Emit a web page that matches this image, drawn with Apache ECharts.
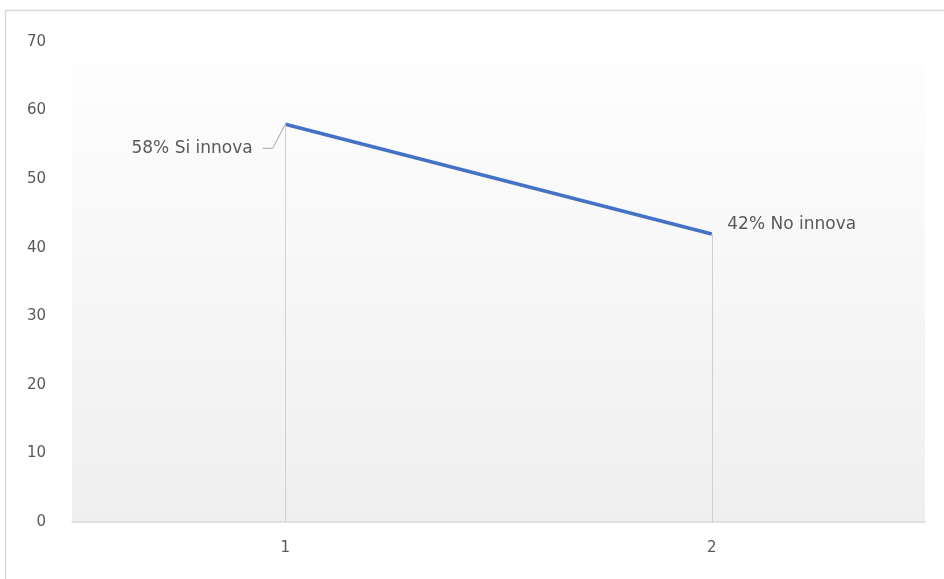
<!DOCTYPE html>
<html>
<head>
<meta charset="utf-8">
<script src="https://cdn.jsdelivr.net/npm/echarts@6/dist/echarts.min.js"></script>
<style>html,body{margin:0;padding:0;background:#fff}#c{width:944px;height:579px}</style>
</head>
<body>
<div id="c"></div>
<script>
const categories = ['1', '2'];
const values = [58, 42];
const labels = ['58% Si innova', '42% No innova'];
const yTicks = { min: 0, max: 70, interval: 10 };

const chart = echarts.init(document.getElementById('c'), null, { renderer: 'canvas' });
const font = '"DejaVu Sans", sans-serif';
chart.setOption({
  animation: false,
  backgroundColor: '#ffffff',
  graphic: [{
    type: 'rect', z: -10,
    shape: { x: 5.5, y: 10.5, width: 1000, height: 700 },
    style: { fill: 'none', stroke: '#d9d9d9', lineWidth: 1.5 }
  }],
  grid: {
    left: 72, right: 19, top: 42, bottom: 57,
    show: true, borderWidth: 0,
    backgroundColor: {
      type: 'linear', x: 0, y: 0, x2: 0, y2: 1,
      colorStops: [{ offset: 0, color: '#ffffff' }, { offset: 0.08, color: '#fdfdfd' }, { offset: 1, color: '#efefef' }]
    }
  },
  xAxis: {
    type: 'category',
    data: categories,
    boundaryGap: true,
    axisLine: { lineStyle: { color: '#d9d9d9', width: 1.5 } },
    axisTick: { show: false },
    axisLabel: { color: '#595959', fontSize: 15, fontFamily: font, margin: 19 },
    splitLine: { show: false }
  },
  yAxis: {
    type: 'value',
    min: yTicks.min, max: yTicks.max, interval: yTicks.interval,
    axisLine: { show: false },
    axisTick: { show: false },
    splitLine: { show: false },
    axisLabel: { color: '#595959', fontSize: 15, fontFamily: font, margin: 26 }
  },
  series: [{
    type: 'line',
    data: values.map((v, i) => ({
      value: v,
      label: {
        show: true,
        formatter: i === 0 ? '{t|' + labels[i] + '}{s|}' : '{t|' + labels[i] + '}',
        position: i === 0 ? 'left' : 'right',
        distance: i === 0 ? 0 : 15
      },
      labelLine: { show: i === 0 }
    })),
    symbol: 'circle',
    symbolSize: 1,
    showSymbol: true,
    itemStyle: { color: 'rgba(0,0,0,0)' },
    lineStyle: { color: '#4472c4', width: 3.5 },
    label: {
      color: '#595959', fontSize: 17, fontFamily: font,
      rich: {
        t: { color: '#595959', fontSize: 17, fontFamily: font },
        s: { width: 10, fontSize: 17 }
      }
    },
    labelLine: { show: true, length2: 10, lineStyle: { color: '#a6a6a6', width: 1 } },
    labelLayout: function (p) {
      if (p.dataIndex === 0) return { dx: -22, dy: 24 };
      return { dx: 0, dy: -9 };
    },
    markLine: {
      silent: true,
      symbol: 'none',
      label: { show: false },
      lineStyle: { color: '#d0d0d0', width: 1, type: 'solid' },
      data: values.map((v, i) => [{ coord: [i, v] }, { coord: [i, 0] }])
    }
  }]
});
</script>
</body>
</html>
